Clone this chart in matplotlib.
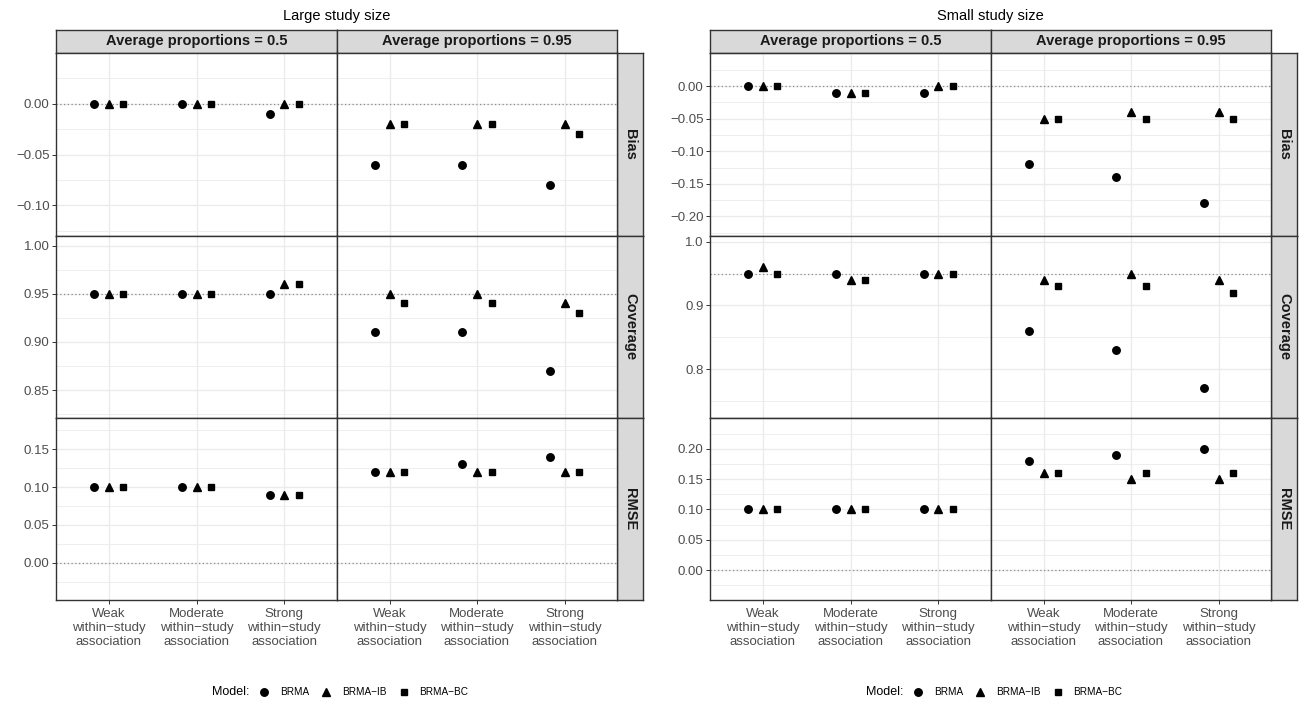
import matplotlib
matplotlib.use("Agg")
import matplotlib.pyplot as plt
from matplotlib.ticker import MultipleLocator
from matplotlib.lines import Line2D
import numpy as np

plt.rcParams['font.family'] = ['Liberation Sans', 'DejaVu Sans']

# ! <--- data, one triple per association : BRMA, BRMA-IB, BRMA-BC --->
models = ['BRMA', 'BRMA\u2212IB', 'BRMA\u2212BC']
associations = ['Weak\nwithin\u2212study\nassociation',
                'Moderate\nwithin\u2212study\nassociation',
                'Strong\nwithin\u2212study\nassociation']
proportions = ['Average proportions = 0.5', 'Average proportions = 0.95']
measures = ['Bias', 'Coverage', 'RMSE']
reference = [0.0, 0.95, 0.0]

large_bias_p05 = [[0.00, 0.00, 0.00], [0.00, 0.00, 0.00], [-0.01, 0.00, 0.00]]
large_bias_p095 = [[-0.06, -0.02, -0.02], [-0.06, -0.02, -0.02], [-0.08, -0.02, -0.03]]
large_cov_p05 = [[0.95, 0.95, 0.95], [0.95, 0.95, 0.95], [0.95, 0.96, 0.96]]
large_cov_p095 = [[0.91, 0.95, 0.94], [0.91, 0.95, 0.94], [0.87, 0.94, 0.93]]
large_rmse_p05 = [[0.10, 0.10, 0.10], [0.10, 0.10, 0.10], [0.09, 0.09, 0.09]]
large_rmse_p095 = [[0.12, 0.12, 0.12], [0.13, 0.12, 0.12], [0.14, 0.12, 0.12]]

small_bias_p05 = [[0.00, 0.00, 0.00], [-0.01, -0.01, -0.01], [-0.01, 0.00, 0.00]]
small_bias_p095 = [[-0.12, -0.05, -0.05], [-0.14, -0.04, -0.05], [-0.18, -0.04, -0.05]]
small_cov_p05 = [[0.95, 0.96, 0.95], [0.95, 0.94, 0.94], [0.95, 0.95, 0.95]]
small_cov_p095 = [[0.86, 0.94, 0.93], [0.83, 0.95, 0.93], [0.77, 0.94, 0.92]]
small_rmse_p05 = [[0.10, 0.10, 0.10], [0.10, 0.10, 0.10], [0.10, 0.10, 0.10]]
small_rmse_p095 = [[0.18, 0.16, 0.16], [0.19, 0.15, 0.16], [0.20, 0.15, 0.16]]

# ! <--- layout in pixels --->
W, H = 1308, 708
rows = [53, 236, 418, 600]
markers = [('o', 5.4), ('^', 6.0), ('s', 4.6)]
offsets = [-1 / 6, 0, 1 / 6]
dark = '#333333'

fig = plt.figure(figsize=(W / 100, H / 100), dpi=100)


def box(x0, y0, x1, y1) :
    return [x0 / W, 1 - y1 / H, (x1 - x0) / W, (y1 - y0) / H]


def strip(rect, label, rot) :
    sax = fig.add_axes(rect)
    sax.set_facecolor('#D9D9D9')
    sax.set_xticks([])
    sax.set_yticks([])
    for s in sax.spines.values() :
        s.set_color(dark)
        s.set_linewidth(1.0)
    sax.text(0.5, 0.5, label, transform = sax.transAxes, ha = 'center', va = 'center',
             rotation = rot, fontsize = 10.5, fontweight = 'bold', color = '#1A1A1A')


def block(x0, xm, x1, xs, title, panels, ylims, yticks, ylabels) :
    fig.text((x0 + x1) / 2 / W, 1 - 16 / H, title, ha = 'center', va = 'center', fontsize = 10.5)
    cols = [(x0, xm), (xm, x1)]
    for c, (a, b) in enumerate(cols) :
        strip(box(a, 30, b, 53), proportions[c], 0)
    for r in range(3) :
        strip(box(x1, rows[r], xs, rows[r + 1]), measures[r], -90)
        for c, (a, b) in enumerate(cols) :
            ax = fig.add_axes(box(a, rows[r], b, rows[r + 1]))
            vals = np.array(panels[r][c])
            x = np.arange(len(associations))
            for k, (mk, ms) in enumerate(markers) :
                ax.plot(x + offsets[k], vals[:, k], ls = 'none', marker = mk, ms = ms,
                        color = 'black', zorder = 3, clip_on = False)
            ax.axhline(reference[r], color = '#8C8C8C', ls = (0, (1, 2)), lw = 0.9, zorder = 2)
            ax.set_xlim(-0.6, 2.6)
            ax.set_ylim(*ylims[r])
            ax.set_xticks(x)
            ax.set_yticks(yticks[r])
            ax.yaxis.set_minor_locator(MultipleLocator((yticks[r][1] - yticks[r][0]) / 2))
            ax.grid(which = 'major', color = '#EBEBEB', lw = 1.0)
            ax.grid(which = 'minor', axis = 'y', color = '#EBEBEB', lw = 0.6)
            ax.set_axisbelow(True)
            ax.tick_params(which = 'both', length = 3, width = 0.7, color = dark,
                           labelsize = 9.5, labelcolor = '#4D4D4D', pad = 1.5)
            ax.tick_params(axis = 'y', which = 'minor', left = False)
            ax.tick_params(axis = 'x', pad = 2.5)
            for s in ax.spines.values() :
                s.set_color(dark)
                s.set_linewidth(1.0)
            if c == 0 :
                ax.set_yticklabels(ylabels[r])
            else :
                ax.tick_params(axis = 'y', left = False, labelleft = False)
            if r == 2 :
                ax.set_xticklabels(associations, linespacing = 1.22)
            else :
                ax.tick_params(axis = 'x', bottom = False, labelbottom = False)


def legend(xm) :
    fig.text(xm / W, 1 - 692 / H, 'Model:', ha = 'right', va = 'center', fontsize = 9)
    handles = [Line2D([], [], ls = 'none', marker = mk, ms = ms, color = 'black') for mk, ms in markers]
    fig.legend(handles, models, loc = 'center left', bbox_to_anchor = ((xm + 10) / W, 1 - 692 / H),
               ncol = 3, frameon = False, fontsize = 7.2, handlelength = 1.0, handletextpad = 1.1,
               columnspacing = 1.2, borderpad = 0, borderaxespad = 0)


large_panels = [[large_bias_p05, large_bias_p095], [large_cov_p05, large_cov_p095],
                [large_rmse_p05, large_rmse_p095]]
small_panels = [[small_bias_p05, small_bias_p095], [small_cov_p05, small_cov_p095],
                [small_rmse_p05, small_rmse_p095]]

block(56, 337, 617, 643, 'Large study size', large_panels,
      [(-0.13, 0.05), (0.821, 1.010), (-0.049, 0.191)],
      [[-0.10, -0.05, 0.00], [0.85, 0.90, 0.95, 1.00], [0.00, 0.05, 0.10, 0.15]],
      [['\u22120.10', '\u22120.05', '0.00'], ['0.85', '0.90', '0.95', '1.00'],
       ['0.00', '0.05', '0.10', '0.15']])

block(710, 991, 1271, 1297, 'Small study size', small_panels,
      [(-0.230, 0.051), (0.723, 1.009), (-0.0495, 0.251)],
      [[-0.20, -0.15, -0.10, -0.05, 0.00], [0.8, 0.9, 1.0], [0.00, 0.05, 0.10, 0.15, 0.20]],
      [['\u22120.20', '\u22120.15', '\u22120.10', '\u22120.05', '0.00'], ['0.8', '0.9', '1.0'],
       ['0.00', '0.05', '0.10', '0.15', '0.20']])

legend(249)
legend(903)

fig.savefig('out.png', dpi = 100)
